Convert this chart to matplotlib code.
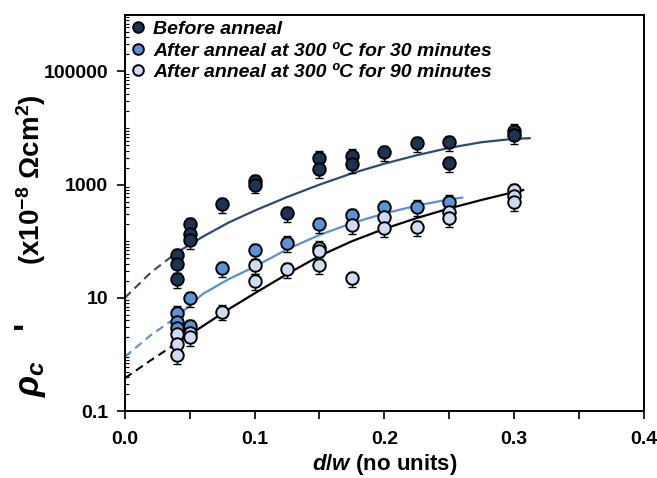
import numpy as np
import matplotlib
matplotlib.use("Agg")
import matplotlib.pyplot as plt
from matplotlib.ticker import LogLocator, FixedLocator, MultipleLocator, NullFormatter, FormatStrFormatter

plt.rcParams['font.family'] = ['Liberation Sans', 'DejaVu Sans']
plt.rcParams['font.weight'] = 'bold'
plt.rcParams['mathtext.fontset'] = 'custom'
plt.rcParams['mathtext.rm'] = 'Liberation Sans:bold'
plt.rcParams['mathtext.it'] = 'Liberation Sans:bold:italic'
plt.rcParams['mathtext.bf'] = 'Liberation Sans:bold'

# measured points: before anneal
x_before = [0.04, 0.04, 0.04, 0.05, 0.05, 0.05, 0.075, 0.1, 0.1, 0.125,
            0.15, 0.15, 0.175, 0.175, 0.2, 0.225, 0.25, 0.25, 0.3, 0.3]
y_before = [57, 39, 21.5, 201, 134, 105, 454, 1150, 1000, 311,
            2985, 1862, 3243, 2312, 3720, 5370, 5660, 2378, 8950, 7520]

# after anneal 300 C, 30 min
x_30 = [0.04, 0.04, 0.04, 0.05, 0.05, 0.075, 0.1, 0.125, 0.15, 0.175, 0.2, 0.225, 0.25]
y_30 = [5.46, 3.79, 2.89, 9.8, 3.18, 33.2, 70, 94, 199, 290, 397, 407, 499]

# after anneal 300 C, 90 min
x_90 = [0.04, 0.04, 0.04, 0.05, 0.05, 0.075, 0.1, 0.1, 0.125, 0.15, 0.15, 0.15,
        0.175, 0.175, 0.2, 0.2, 0.225, 0.25, 0.25, 0.3, 0.3, 0.3]
y_90 = [2.29, 1.53, 0.975, 2.39, 2.0, 5.73, 38, 20, 32, 76.7, 67, 38,
        193, 22.1, 271, 169, 175, 332, 260, 803, 630, 499]

rel_err = 0.3  # error bar size, read roughly off the caps

# fitted curves
fit_x_before = [0, 0.02, 0.04, 0.06, 0.08, 0.10, 0.125, 0.15, 0.175, 0.20, 0.225, 0.25, 0.275, 0.30, 0.312]
fit_y_before = [10, 28, 63, 120, 214, 347, 603, 1000, 1585, 2344, 3311, 4467, 5623, 6457, 6607]

fit_x_30 = [0, 0.02, 0.04, 0.06, 0.08, 0.10, 0.125, 0.15, 0.175, 0.20, 0.225, 0.25, 0.26]
fit_y_30 = [0.91, 2.19, 4.6, 11.7, 21.4, 35.5, 72, 129, 209, 309, 427, 550, 589]

fit_x_90 = [0, 0.02, 0.04, 0.05, 0.06, 0.08, 0.10, 0.125, 0.15, 0.175, 0.20, 0.225, 0.25, 0.275, 0.30, 0.307]
fit_y_90 = [0.38, 0.79, 1.58, 2.24, 3.16, 6.3, 12.0, 26.3, 55, 100, 166, 257, 380, 537, 741, 800]

labels = ['Before anneal',
          'After anneal at 300 \u00baC for 30 minutes',
          'After anneal at 300 \u00baC for 90 minutes']
fill_colors = ['#1b3354', '#5b93d9', '#cddcf3']
line_colors = ['#2c4b74', '#5a8fd2', '#000000']

W, H = 657, 478
fig = plt.figure(figsize=(W / 100, H / 100), dpi=100)
ax = fig.add_axes([0.190, 0.140, 0.790, 0.829])

series = [(x_before, y_before), (x_30, y_30), (x_90, y_90)]
fits = [(fit_x_before, fit_y_before), (fit_x_30, fit_y_30), (fit_x_90, fit_y_90)]

for (fx, fy), lc in zip(fits, line_colors):
    fx = np.array(fx)
    fy = np.array(fy)
    dash = fx <= 0.04
    ax.plot(fx[dash], fy[dash], color=lc, lw=1.5, ls=(0, (4, 2.5)), zorder=2)
    ax.plot(fx[fx >= 0.04], fy[fx >= 0.04], color=lc, lw=1.6, zorder=2)

for (xs, ys), fc, lab in zip(series, fill_colors, labels):
    ys = np.array(ys)
    ax.errorbar(xs, ys, yerr=[ys * rel_err, ys * rel_err], fmt='none',
                ecolor='black', elinewidth=1.0, capsize=3, capthick=1.0, zorder=3)
    ax.plot(xs, ys, 'o', ms=9, mfc=fc, mec='black', mew=1.4, ls='none',
            label=lab, zorder=4)

ax.set_yscale('log')
ax.set_xlim(0, 0.4)
ax.set_ylim(0.1, 1e6)

ax.yaxis.set_major_locator(FixedLocator([0.1, 10, 1000, 100000]))
ax.yaxis.set_minor_locator(LogLocator(base=10, subs=np.arange(1, 10), numticks=20))
ax.yaxis.set_minor_formatter(NullFormatter())
ax.set_yticklabels(['0.1', '10', '1000', '100000'])
ax.xaxis.set_major_locator(MultipleLocator(0.1))
ax.xaxis.set_minor_locator(MultipleLocator(0.05))
ax.xaxis.set_major_formatter(FormatStrFormatter('%.1f'))

ax.tick_params(axis='both', which='major', labelsize=14, width=1.2, length=6, direction='out')
ax.tick_params(axis='x', which='major', pad=8)
ax.tick_params(axis='y', which='major', pad=6)
ax.tick_params(axis='x', which='minor', width=1.2, length=6, direction='out')
ax.tick_params(axis='y', which='minor', width=0.8, length=3, direction='in')
for lab in ax.get_xticklabels() + ax.get_yticklabels():
    lab.set_fontweight('bold')
for sp in ax.spines.values():
    sp.set_linewidth(1.4)

ax.set_xlabel(r'$d/w$ (no units)', fontsize=16, fontweight='bold', labelpad=3)

# y label in two pieces: big rho_c' and the unit part
fig.text(31 / W, 1 - 397 / H, r"$\rho_c$   '", rotation=90, fontsize=25,
         fontweight='bold', ha='center', va='bottom')
fig.text(31 / W, 1 - 95 / H, r"(x10$^{\mathregular{-8}}$ " + "\u03a9" + r"cm$^{\mathregular{2}}$)",
         rotation=90, fontsize=20, fontweight='bold', ha='center', va='top')

ax.legend(loc='upper left', bbox_to_anchor=(0.0, 1.0), frameon=False,
          handletextpad=0.35, labelspacing=0.2, borderaxespad=0.0, borderpad=0.3,
          prop={'size': 14, 'weight': 'bold', 'style': 'italic'},
          handlelength=0.8, markerscale=0.85)

fig.savefig('out.png', dpi=100)
